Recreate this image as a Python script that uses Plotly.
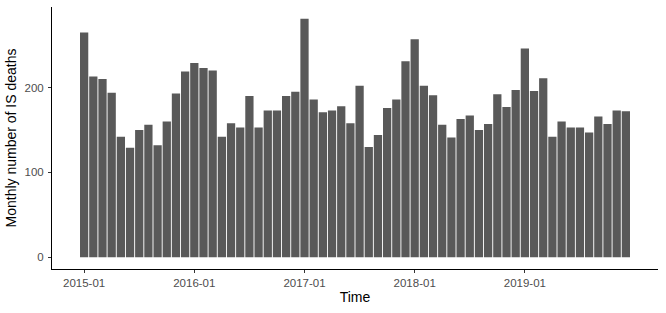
import plotly.graph_objects as go

months = [f"{y}-{m:02d}" for y in range(2015, 2020) for m in range(1, 13)]
deaths = [
    265, 213, 210, 194, 142, 129, 150, 156, 132, 160, 193, 219,
    229, 223, 220, 142, 158, 153, 190, 153, 173, 173, 190, 195,
    281, 186, 171, 173, 178, 158, 202, 130, 144, 176, 186, 231,
    257, 202, 191, 156, 141, 163, 167, 150, 157, 192, 177, 197,
    246, 196, 211, 142, 160, 153, 153, 147, 166, 157, 173, 172,
]
x_ticks = ["2015-01", "2016-01", "2017-01", "2018-01", "2019-01"]
y_ticks = [0, 100, 200]

fig = go.Figure(go.Bar(x=months, y=deaths, marker=dict(color="#595959", line=dict(width=0))))

font = "Liberation Sans, Arial, sans-serif"
fig.update_layout(
    width=666, height=313,
    margin=dict(l=52, r=8, t=7, b=44),
    paper_bgcolor="white", plot_bgcolor="white",
    bargap=0.1, showlegend=False,
    font=dict(family=font, color="#4D4D4D", size=11.5),
)
fig.update_xaxes(
    type="category", categoryorder="array", categoryarray=months,
    range=[-3.5, 62.5], automargin=False,
    tickmode="array", tickvals=x_ticks, ticktext=x_ticks,
    ticks="outside", ticklen=3, tickcolor="#333333",
    showline=True, linecolor="black", linewidth=1,
    showgrid=False, zeroline=False,
    title=dict(text="Time", font=dict(size=14, color="black", family=font), standoff=4),
)
fig.update_yaxes(
    range=[-14, 295], automargin=False,
    tickmode="array", tickvals=y_ticks,
    ticks="outside", ticklen=3, tickcolor="#333333", ticklabelstandoff=2,
    showline=True, linecolor="black", linewidth=1,
    showgrid=False, zeroline=False,
    title=dict(text="Monthly number of IS deaths", font=dict(size=14, color="black", family=font), standoff=4),
)
fig.write_html(
    "out.html",
    config={"displayModeBar": False},
    post_script="document.body.style.margin='0';document.body.style.overflow='hidden';",
)
